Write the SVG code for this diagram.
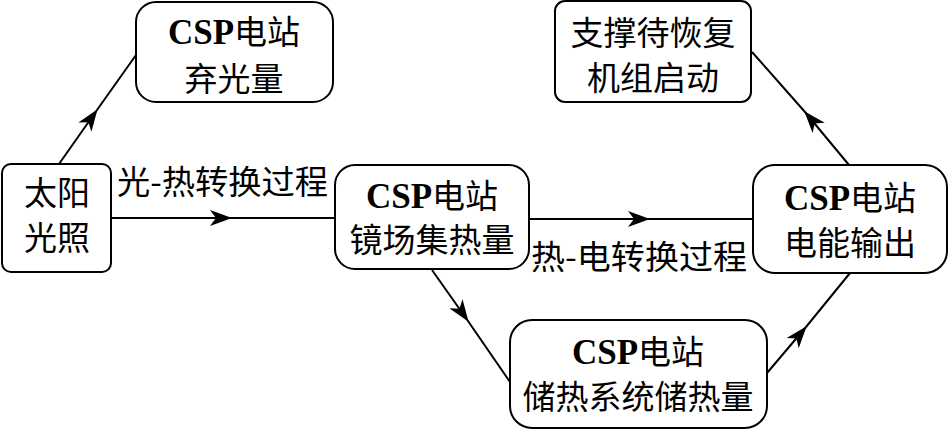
<svg xmlns="http://www.w3.org/2000/svg" width="952" height="429" viewBox="0 0 952 429">
<defs>
<marker id="ah" markerUnits="userSpaceOnUse" viewBox="0 0 22 16" refX="21" refY="8" markerWidth="22" markerHeight="16" orient="auto">
<path d="M0,0 L22,8 L0,16 L6,8 z" fill="#000"/>
</marker>
</defs>
<style>
.box{fill:#fff;stroke:#000;stroke-width:2}
.t{font-family:"Noto Sans CJK SC","Noto Sans CJK JP",sans-serif;font-size:33px;fill:#000;text-anchor:middle}
.csp{font-family:"Liberation Serif",serif;font-weight:bold;font-size:35px}
.c{fill:none;stroke:#000;stroke-width:2;marker-mid:url(#ah)}
.lbl{font-family:"Noto Sans CJK SC","Noto Sans CJK JP",sans-serif;font-size:33px;fill:#000}
</style>
<rect width="952" height="429" fill="#fff"/>
<g id="connectors">
<polyline class="c" points="59,164 97,110 136,55"/>
<polyline class="c" points="111,218 231,218 335,218"/>
<polyline class="c" points="529,219 649,219 753,219"/>
<polyline class="c" points="432,270 468,321 510,382"/>
<polyline class="c" points="767,373 806,327 850,273"/>
<polyline class="c" points="849,165 805,112 752,52"/>
</g>
<g id="n_sun">
<rect class="box" x="2" y="164" width="109" height="108" rx="9"/>
<text class="t" x="57" y="205">太阳</text>
<text class="t" x="57" y="250">光照</text>
</g>
<g id="n_curtail">
<rect class="box" x="136" y="2" width="197" height="100" rx="20"/>
<text class="t" x="234" y="44"><tspan class="csp">CSP</tspan>电站</text>
<text class="t" x="234" y="91">弃光量</text>
</g>
<g id="n_field">
<rect class="box" x="335" y="165" width="194" height="104" rx="20"/>
<text class="t" x="432" y="208"><tspan class="csp">CSP</tspan>电站</text>
<text class="t" x="432" y="252">镜场集热量</text>
</g>
<g id="n_support">
<rect class="box" x="555" y="1" width="196" height="101" rx="10"/>
<text class="t" x="653" y="45">支撑待恢复</text>
<text class="t" x="653" y="90">机组启动</text>
</g>
<g id="n_output">
<rect class="box" x="753" y="165" width="194" height="108" rx="22"/>
<text class="t" x="850" y="210"><tspan class="csp">CSP</tspan>电站</text>
<text class="t" x="850" y="255">电能输出</text>
</g>
<g id="n_storage">
<rect class="box" x="510" y="320" width="257" height="108" rx="22"/>
<text class="t" x="638" y="364"><tspan class="csp">CSP</tspan>电站</text>
<text class="t" x="638" y="409">储热系统储热量</text>
</g>
<g id="labels">
<text class="lbl" x="117" y="194" textLength="211" lengthAdjust="spacingAndGlyphs">光-热转换过程</text>
<text class="lbl" x="531" y="269" textLength="216" lengthAdjust="spacingAndGlyphs">热-电转换过程</text>
</g>
</svg>
